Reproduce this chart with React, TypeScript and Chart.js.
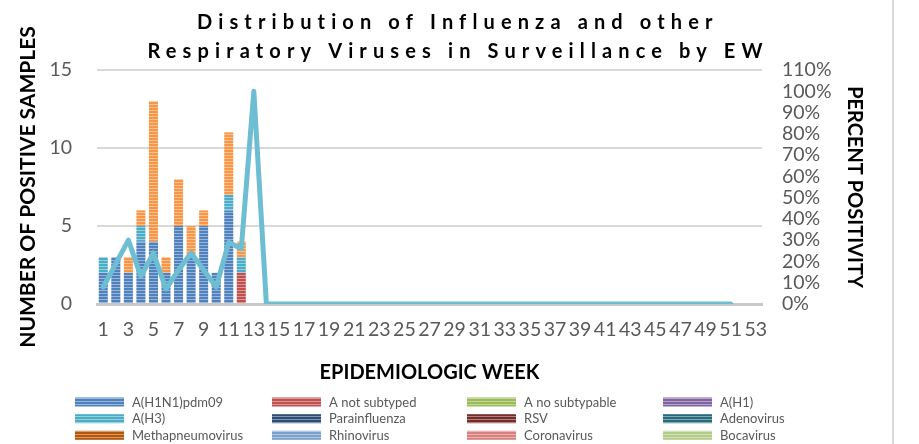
import React, { useEffect, useRef } from 'react';
import { Chart, registerables } from 'chart.js';

Chart.register(...registerables);

const weeks = [
  '1', '2', '3', '4', '5', '6', '7', '8', '9', '10', '11', '12', '13', '14', '15', '16', '17', '18',
  '19', '20', '21', '22', '23', '24', '25', '26', '27', '28', '29', '30', '31', '32', '33', '34', '35',
  '36', '37', '38', '39', '40', '41', '42', '43', '44', '45', '46', '47', '48', '49', '50', '51', '52', '53',
];

// Number of positive samples per epidemiologic week (weeks 1-12 have samples)
const h1n1pdm09 = [2, 3, 2, 4, 4, 2, 5, 3, 5, 2, 6, 0];
const aNotSubtyped = [0, 0, 0, 0, 0, 0, 0, 0, 0, 0, 0, 2];
const aNoSubtypable: number[] = [];
const aH1: number[] = [];
const aH3 = [1, 0, 0, 1, 0, 0, 0, 0, 0, 0, 1, 1];
const parainfluenza: number[] = [];
const rsv: number[] = [];
const adenovirus: number[] = [];
const methapneumovirus: number[] = [];
const rhinovirus: number[] = [];
const coronavirus: number[] = [];
const bocavirus: number[] = [];
const influenzaB = [0, 0, 1, 1, 9, 1, 3, 2, 1, 0, 4, 1];

// Percent positivity
const percentPositivity = [
  8, 19, 30, 13, 24, 7, 16, 24, 16, 8, 29, 26, 100, 0, 0, 0, 0, 0, 0, 0, 0, 0, 0, 0, 0, 0,
  0, 0, 0, 0, 0, 0, 0, 0, 0, 0, 0, 0, 0, 0, 0, 0, 0, 0, 0, 0, 0, 0, 0, 0, 0, null, null,
];

const seriesNames = [
  'A(H1N1)pdm09', 'A not subtyped', 'A no subtypable', 'A(H1)',
  'A(H3)', 'Parainfluenza', 'RSV', 'Adenovirus',
  'Methapneumovirus', 'Rhinovirus', 'Coronavirus', 'Bocavirus',
];
const seriesValues = [
  h1n1pdm09, aNotSubtyped, aNoSubtypable, aH1,
  aH3, parainfluenza, rsv, adenovirus,
  methapneumovirus, rhinovirus, coronavirus, bocavirus,
];
const seriesColors = [
  '#4f81bd', '#c0504d', '#9bbb59', '#8064a2',
  '#4bacc6', '#2c4d75', '#772c2a', '#276a7c',
  '#b65708', '#7ba0cd', '#d7807e', '#b3cb86',
];
const influenzaBColor = '#f79646';
const lineColor = '#6dbdd3';

const titleLines = ['Distribution of Influenza and other', 'Respiratory Viruses in Surveillance by EW'];
const FONT = 'Lato, "Open Sans", sans-serif';

function makePattern(color: string): CanvasPattern | string {
  const c = document.createElement('canvas');
  c.width = 6;
  c.height = 3;
  const g = c.getContext('2d');
  if (!g) return color;
  g.fillStyle = color;
  g.fillRect(0, 0, 6, 3);
  g.fillStyle = 'rgba(255,255,255,0.42)';
  g.fillRect(0, 2, 6, 1);
  const p = g.createPattern(c, 'repeat');
  return p || color;
}

export default function App() {
  const ref = useRef<HTMLCanvasElement>(null);

  useEffect(() => {
    const canvas = ref.current;
    if (!canvas) return;
    const patterns = seriesColors.map(makePattern);
    const bPattern = makePattern(influenzaBColor);

    const titlePlugin = {
      id: 'customTitle',
      afterDraw(chart: any) {
        const ctx = chart.ctx as CanvasRenderingContext2D;
        ctx.save();
        ctx.font = `bold 20px ${FONT}`;
        ctx.fillStyle = '#000000';
        ctx.textBaseline = 'alphabetic';
        ctx.textAlign = 'left';
        (ctx as any).letterSpacing = '0px';
        const natural2 = ctx.measureText(titleLines[1]).width;
        const spacing = (615 - natural2) / (titleLines[1].length - 1);
        const baselines = [29, 57.5];
        titleLines.forEach((line, i) => {
          (ctx as any).letterSpacing = '0px';
          const nat = ctx.measureText(line).width;
          const total = nat + spacing * (line.length - 1);
          (ctx as any).letterSpacing = `${spacing}px`;
          ctx.fillText(line, 455 - total / 2, baselines[i]);
        });
        (ctx as any).letterSpacing = '0px';
        ctx.restore();
      },
    };

    const legendPlugin = {
      id: 'customLegend',
      afterDraw(chart: any) {
        const ctx = chart.ctx as CanvasRenderingContext2D;
        ctx.save();
        const colX = [75, 272, 467, 663];
        const rowY = [402, 418.7, 435.3];
        ctx.font = `13px ${FONT}`;
        ctx.textBaseline = 'middle';
        ctx.textAlign = 'left';
        seriesNames.forEach((name, i) => {
          const x = colX[i % 4];
          const y = rowY[Math.floor(i / 4)];
          ctx.fillStyle = patterns[i] as any;
          ctx.fillRect(x, y - 4.5, 49, 9);
          ctx.fillStyle = '#595959';
          ctx.fillText(name, x + 57, y + 0.5);
        });
        // outer frame line on the right
        ctx.strokeStyle = '#d9d9d9';
        ctx.lineWidth = 2;
        ctx.beginPath();
        ctx.moveTo(893, 0);
        ctx.lineTo(893, 444);
        ctx.stroke();
        ctx.restore();
      },
    };

    const datasets: any[] = [
      {
        type: 'line',
        label: 'Percent positivity',
        data: percentPositivity,
        yAxisID: 'y1',
        borderColor: lineColor,
        backgroundColor: lineColor,
        borderWidth: 5,
        pointRadius: 0,
        tension: 0,
        borderJoinStyle: 'round',
        borderCapStyle: 'round',
        order: 0,
      },
      ...seriesNames.map((name, i) => ({
        type: 'bar',
        label: name,
        data: seriesValues[i],
        backgroundColor: patterns[i],
        yAxisID: 'y',
        stack: 'samples',
        order: 1,
        barPercentage: 0.72,
        categoryPercentage: 1,
      })),
      {
        type: 'bar',
        label: 'Influenza B',
        data: influenzaB,
        backgroundColor: bPattern,
        yAxisID: 'y',
        stack: 'samples',
        order: 1,
        barPercentage: 0.72,
        categoryPercentage: 1,
      },
    ];

    const tickFont = { family: FONT, size: 19.5 };
    const axisTitleFont = { family: FONT, size: 21, weight: 'bold' as const };

    const chart = new Chart(canvas, {
      type: 'bar',
      data: { labels: weeks, datasets },
      options: {
        responsive: false,
        animation: false,
        layout: { padding: { left: 0, right: 0, top: 70, bottom: 0 } },
        plugins: {
          legend: { display: false },
          title: { display: false },
          tooltip: { enabled: false },
        },
        scales: {
          x: {
            stacked: true,
            grid: { display: false, drawTicks: false },
            border: { display: true, color: '#c8c8c8', width: 3 },
            ticks: {
              autoSkip: false,
              maxRotation: 0,
              minRotation: 0,
              padding: 14,
              color: '#595959',
              font: tickFont,
              callback: (_v: any, i: number) => (i % 2 === 0 ? weeks[i] : ''),
            },
            title: {
              display: true,
              text: 'EPIDEMIOLOGIC WEEK',
              color: '#000000',
              font: { family: FONT, size: 20, weight: 'bold' as const },
              padding: { top: 0, bottom: 59 },
            },
            afterFit: (s: any) => {
              s.height = 140;
            },
          },
          y: {
            position: 'left',
            stacked: true,
            min: 0,
            max: 15,
            ticks: { stepSize: 5, padding: 25, color: '#595959', font: tickFont },
            grid: { color: '#d9d9d9', lineWidth: 2, drawTicks: false },
            border: { display: false },
            title: {
              display: true,
              text: 'NUMBER OF POSITIVE SAMPLES',
              color: '#000000',
              font: axisTitleFont,
              padding: { top: 16, bottom: 0 },
            },
            afterFit: (s: any) => {
              s.width = 97;
            },
          },
          y1: {
            position: 'right',
            min: 0,
            max: 110,
            ticks: {
              stepSize: 10,
              autoSkip: false,
              padding: 20,
              color: '#595959',
              font: tickFont,
              callback: (v: any) => `${v}%`,
            },
            grid: { display: false, drawTicks: false },
            border: { display: false },
            title: {
              display: true,
              text: 'PERCENT POSITIVITY',
              color: '#000000',
              font: { family: FONT, size: 20, weight: 'bold' as const },
              padding: { top: 53, bottom: 0 },
            },
            afterFit: (s: any) => {
              s.width = 157;
            },
          },
        },
      } as any,
      plugins: [titlePlugin, legendPlugin],
    });

    return () => chart.destroy();
  }, []);

  return (
    <div style={{ position: 'absolute', left: 0, top: 0, width: 919, height: 444, background: '#ffffff' }}>
      <canvas ref={ref} width={919} height={444} style={{ width: '919px', height: '444px', display: 'block' }} />
    </div>
  );
}
